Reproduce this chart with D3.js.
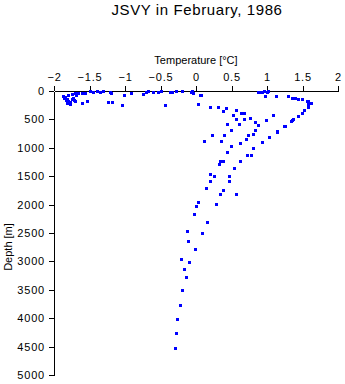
<!DOCTYPE html>
<html><head><meta charset="utf-8">
<script src="https://cdn.jsdelivr.net/npm/d3@7"></script>
<style>
body{margin:0;background:#fff;}
svg{display:block;font-family:"Liberation Sans",Arial,Helvetica,sans-serif;}
</style></head><body>
<script>
const title = "JSVY in February, 1986";
const xLabel = "Temperature [°C]";
const yLabel = "Depth [m]";
const xTicks = [-2,-1.5,-1,-0.5,0,0.5,1,1.5,2];
const yTicks = [0,500,1000,1500,2000,2500,3000,3500,4000,4500,5000];

// temperature [°C]
const temperature = [
-1.877,-1.845,-1.821,-1.799,-1.775,-1.751,-1.728,-1.718,-1.751,-1.704,
-1.658,-1.610,-1.563,-1.799,-1.831,-1.775,-1.704,-1.601,-1.531,-1.493,
-1.446,-1.399,-1.352,-1.306,-1.211,-1.197,-1.235,-1.179,-1.014,-1.046,
-0.915,-0.742,-0.708,-0.680,-0.601,-0.531,-0.493,-0.366,-0.334,-0.286,
-0.193,-0.075,-0.038,-0.061,0.070,-0.437,0.032,-1.859,-1.817,-1.690,
0.873,0.915,0.958,1.000,1.014,0.930,0.972,1.127,1.300,1.348,
1.394,1.441,1.489,1.559,1.573,1.606,1.615,1.582,1.582,1.521,
1.489,1.432,1.370,1.348,1.334,1.254,1.244,1.141,1.137,1.028,
0.930,0.807,0.770,0.723,0.620,0.539,0.461,0.461,0.385,0.338,
0.559,0.286,0.151,0.080,-0.014,-0.094,-0.145,-0.193,-0.225,-0.263,
-0.286,-0.300,0.061,0.197,0.306,0.423,0.385,0.568,0.634,0.680,
0.525,0.568,0.680,0.765,0.831,0.869,0.982,1.089,0.441,0.610,
0.835,0.489,0.221,0.399,0.737,0.799,0.700,0.117,0.352,0.620,
0.497,0.441,0.338,0.385,0.328,0.254,0.201,0.201,0.145,0.032,
0.004,-0.024,-0.123,-0.108,-0.207,-0.165
];
// depth [m]
const depth = [
88,106,146,176,234,146,118,158,58,30,
40,40,30,76,164,194,176,206,176,0,
18,0,18,0,18,40,199,199,70,246,
40,58,18,0,12,18,0,18,18,0,
5,18,30,0,76,246,234,123,211,62,
9,18,0,18,0,26,88,88,88,118,
123,136,146,176,176,206,216,234,276,334,
382,445,498,516,528,611,616,704,716,804,
903,998,1132,1132,1237,1360,1491,1589,1748,1818,
1818,1994,2300,2504,2786,3010,3279,3508,3772,4018,
4264,4528,76,282,287,304,357,334,392,392,
428,488,488,480,546,604,510,428,586,586,
681,686,780,780,769,762,850,880,885,910,
973,1068,1227,1237,1290,1501,1466,1589,1712,1959,
2024,2170,2464,2640,2962,3138
];

const W = 345, H = 384;
const svg = d3.select("body").append("svg").attr("width", W).attr("height", H);
const x = d3.scaleLinear().domain([-2, 2]).range([54, 338]);
const y = d3.scaleLinear().domain([0, 5000]).range([91, 375]);

svg.append("text").attr("x", 197).attr("y", 15).attr("text-anchor", "middle")
  .attr("font-size", 15).attr("letter-spacing", "0.6px").text(title);

const xa = svg.append("g").attr("transform", `translate(0,${y(0)})`)
  .call(d3.axisTop(x).tickValues(xTicks).tickSize(5).tickSizeOuter(0).tickFormat(d3.format("")));
const ya = svg.append("g").attr("transform", `translate(${x(-2)},0)`)
  .call(d3.axisLeft(y).tickValues(yTicks).tickSize(5).tickSizeOuter(0).tickFormat(d3.format("")));
[xa, ya].forEach(g => {
  g.selectAll("path,line").attr("stroke", "#000").attr("shape-rendering", "crispEdges");
  g.selectAll("text").attr("font-size", 11).attr("fill", "#000")
    .attr("font-family", "'Liberation Sans',Arial,sans-serif").attr("letter-spacing", "0.8px");
});
xa.selectAll("text").attr("dy", "0").attr("y", -10);
ya.selectAll("text").attr("x", -9);

svg.append("text").attr("x", 196).attr("y", 64).attr("text-anchor", "middle")
  .attr("font-size", 11).text(xLabel);
svg.append("text").attr("transform", "translate(12,247) rotate(-90)").attr("text-anchor", "middle")
  .attr("font-size", 11).text(yLabel);

const pts = temperature.map((t, i) => ({t, d: depth[i]}));
svg.append("g").selectAll("rect").data(pts).join("rect")
  .attr("x", d => Math.round(x(d.t)) - 1)
  .attr("y", d => Math.round(y(d.d)) - 1)
  .attr("width", 3).attr("height", 3)
  .attr("fill", "#0000ff").attr("shape-rendering", "crispEdges");
</script>
</body></html>
